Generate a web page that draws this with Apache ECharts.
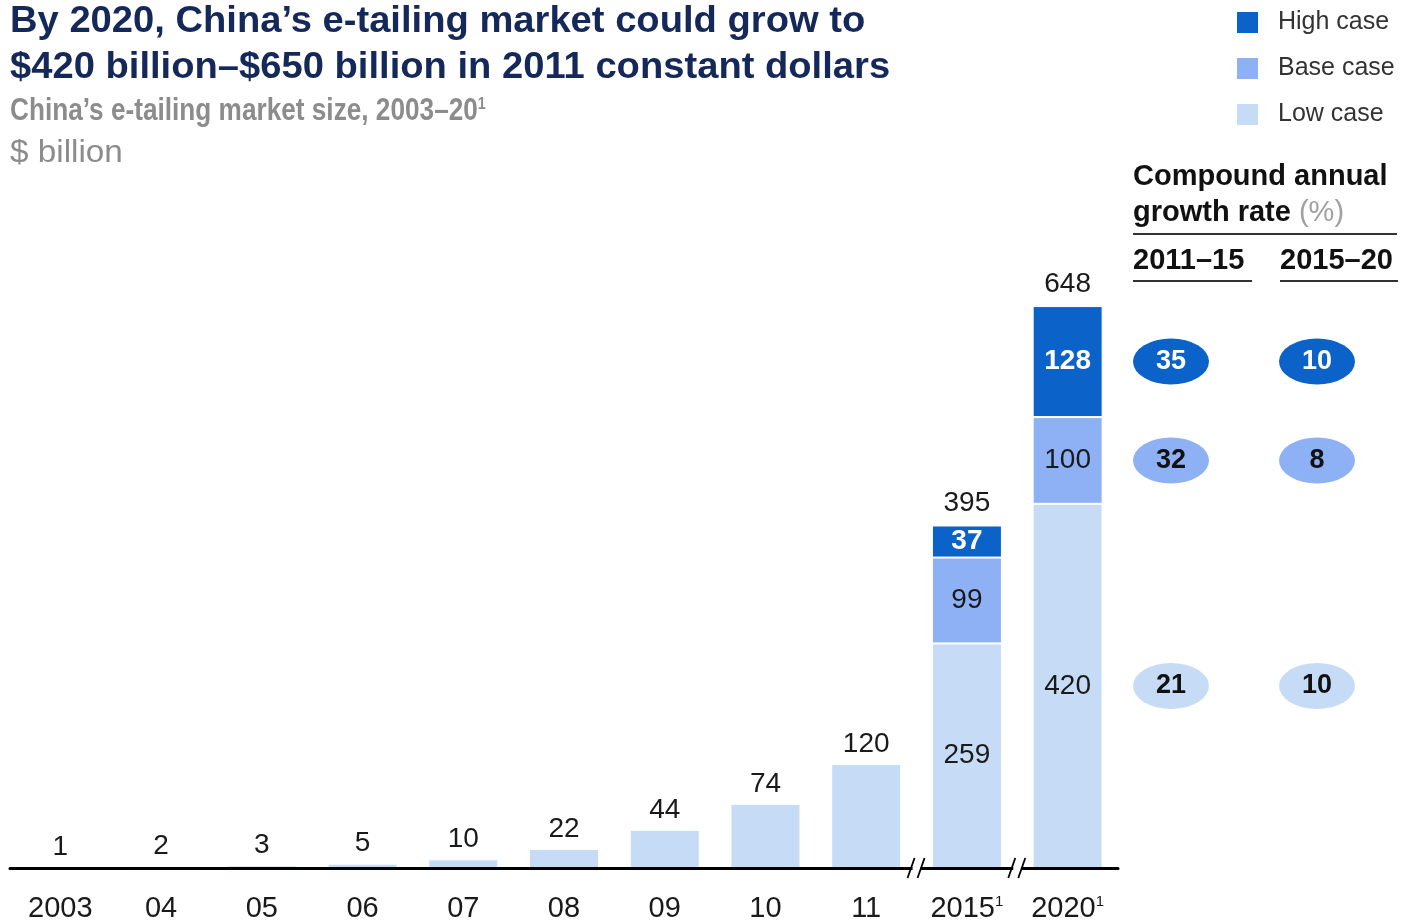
<!DOCTYPE html>
<html>
<head>
<meta charset="utf-8">
<script src="https://cdn.jsdelivr.net/npm/echarts@6/dist/echarts.min.js"></script>
<style>
  html, body { margin: 0; padding: 0; background: #ffffff; }
  #chart { width: 1401px; height: 923px; }
</style>
</head>
<body>
<div id="chart"></div>
<script>
// Market size, $ billion
const years = ['2003', '04', '05', '06', '07', '08', '09', '10', '11', '2015', '2020'];
const lowCase  = [1, 2, 3, 5, 10, 22, 44, 74, 120, 259, 420];
const baseCase = [null, null, null, null, null, null, null, null, null, 99, 100];
const highCase = [null, null, null, null, null, null, null, null, null, 37, 128];
// Years with a superscript footnote marker
const footnoted = ['2015', '2020'];

// Compound annual growth rate, %
const cagrPeriods = ['2011–15', '2015–20'];
const cagrHigh = [35, 10];
const cagrBase = [32, 8];
const cagrLow  = [21, 10];

const COLORS = { high: '#0b62c9', base: '#8db1f4', low: '#c6dcf6' };
const FONT = 'Liberation Sans, Arial, Helvetica, sans-serif';
const Y_MAX = 700;

const totals = years.map((_, i) => (lowCase[i] || 0) + (baseCase[i] || 0) + (highCase[i] || 0));
const projected = years.map(y => footnoted.indexOf(y) >= 0);

const labelBase = { fontFamily: FONT, fontSize: 28, color: '#1a1a1a' };

const lowData = lowCase.map((v, i) => ({
  value: v,
  label: projected[i]
    ? Object.assign({ show: true, position: 'inside' }, labelBase)
    : Object.assign({ show: true, position: 'top', distance: 6 }, labelBase)
}));
const baseData = baseCase.map(v => v == null ? '-' : v);
const highData = highCase.map(v => v == null ? '-' : v);

// Vertical centres of each segment of the last bar, used to line up the growth-rate rows
const last = years.length - 1;
const rowY = {
  low: lowCase[last] / 2,
  base: lowCase[last] + baseCase[last] / 2,
  high: lowCase[last] + baseCase[last] + highCase[last] / 2
};

function ellipseSeries(name, values, y, color, textColor) {
  return {
    name: name + ' CAGR',
    type: 'scatter',
    xAxisIndex: 1,
    yAxisIndex: 1,
    symbol: 'circle',
    symbolSize: [76, 46],
    itemStyle: { color: color, opacity: 1 },
    silent: true,
    data: values.map((v, i) => ({ value: [i, y], cagr: v })),
    label: {
      show: true,
      position: 'inside',
      formatter: p => String(p.data.cagr),
      fontFamily: FONT,
      fontSize: 27,
      fontWeight: 'bold',
      color: textColor
    },
    z: 5
  };
}

// Left-aligned, vertically centred text; sx stretches it horizontally
function label(text, x, y, font, fill, sx, rich) {
  return {
    type: 'text', x: x, y: y, scaleX: sx || 1,
    style: { text: text, x: 0, y: 0, font: font, fill: fill, align: 'left', verticalAlign: 'middle', rich: rich }
  };
}

const chart = echarts.init(document.getElementById('chart'), null, { renderer: 'canvas' });

const option = {
  backgroundColor: '#ffffff',
  animation: false,
  legend: {
    orient: 'vertical',
    left: 1235, top: 10, padding: 0,
    itemWidth: 23, itemHeight: 23, itemGap: 21,
    icon: 'rect',
    data: ['High case', 'Base case', 'Low case'],
    textStyle: { fontFamily: FONT, fontSize: 25, color: '#333333', padding: [0, 0, 0, 14] },
    selectedMode: false
  },
  grid: [
    { left: 10, width: 1108, top: 261, bottom: 55, containLabel: false },
    { left: 1098, width: 292, top: 261, bottom: 55, containLabel: false }
  ],
  xAxis: [
    {
      type: 'category',
      data: years,
      gridIndex: 0,
      z: 10,
      axisLine: { show: true, lineStyle: { color: '#000000', width: 3 } },
      axisTick: { show: false },
      axisLabel: {
        interval: 0,
        margin: 26,
        fontFamily: FONT, fontSize: 29, color: '#1a1a1a',
        formatter: v => footnoted.indexOf(v) >= 0 ? v + '{sup|1}' : v,
        rich: { sup: { fontFamily: FONT, fontSize: 15, color: '#1a1a1a', verticalAlign: 'top', padding: [0, 0, 13, 0] } }
      }
    },
    {
      type: 'category',
      data: cagrPeriods,
      gridIndex: 1,
      show: false
    }
  ],
  yAxis: [
    { type: 'value', gridIndex: 0, min: 0, max: Y_MAX, show: false, splitLine: { show: false } },
    { type: 'value', gridIndex: 1, min: 0, max: Y_MAX, show: false, splitLine: { show: false } }
  ],
  series: [
    {
      name: 'Low case', type: 'bar', stack: 'market', barWidth: 70,
      itemStyle: { color: COLORS.low, borderColor: '#ffffff', borderWidth: 1 },
      data: lowData, z: 2
    },
    {
      name: 'Base case', type: 'bar', stack: 'market', barWidth: 70,
      itemStyle: { color: COLORS.base, borderColor: '#ffffff', borderWidth: 1 },
      label: Object.assign({ show: true, position: 'inside' }, labelBase),
      data: baseData, z: 2
    },
    {
      name: 'High case', type: 'bar', stack: 'market', barWidth: 70,
      itemStyle: { color: COLORS.high, borderColor: '#ffffff', borderWidth: 1 },
      label: {
        show: true, position: 'inside',
        fontFamily: FONT, fontSize: 28, fontWeight: 'bold', color: '#ffffff'
      },
      data: highData, z: 2
    },
    {
      // Totals shown above the stacked projection bars
      name: 'Total', type: 'bar', stack: 'market', barWidth: 70,
      itemStyle: { color: 'transparent' },
      silent: true,
      label: {
        show: true, position: 'insideBottom', distance: 8,
        formatter: p => projected[p.dataIndex] ? String(totals[p.dataIndex]) : '',
        fontFamily: FONT, fontSize: 28, color: '#1a1a1a'
      },
      data: years.map((_, i) => projected[i] ? 0.0001 : '-'), z: 1
    },
    ellipseSeries('High case', cagrHigh, rowY.high, COLORS.high, '#ffffff'),
    ellipseSeries('Base case', cagrBase, rowY.base, COLORS.base, '#111111'),
    ellipseSeries('Low case', cagrLow, rowY.low, COLORS.low, '#111111')
  ]
};

chart.setOption(option);

// Titles, axis break marks and the growth-rate header
function drawExtras() {
  const baseY = chart.convertToPixel({ yAxisIndex: 0 }, 0);
  const els = [
    label('By 2020, China’s e-tailing market could grow to', 10, 22, 'bold 36px ' + FONT, '#14285a', 1.06),
    label('$420 billion–$650 billion in 2011 constant dollars', 10, 68, 'bold 36px ' + FONT, '#14285a', 1.06),
    label('{m|China’s e-tailing market size, 2003–20}{s|1}', 10, 111, 'bold 31px ' + FONT, '#8c8c8c', 0.845, {
      m: { font: 'bold 31px ' + FONT, fill: '#8c8c8c' },
      s: { font: 'bold 17px ' + FONT, fill: '#8c8c8c', verticalAlign: 'top', padding: [0, 0, 14, 0] }
    }),
    label('$ billion', 10, 153, '32px ' + FONT, '#8c8c8c', 1.04),

    label('Compound annual', 1133, 177, 'bold 29px ' + FONT, '#111111', 1),
    label('{b|growth rate} {g|(%)}', 1133, 213, 'bold 29px ' + FONT, '#111111', 1, {
      b: { font: 'bold 29px ' + FONT, fill: '#111111' },
      g: { font: '29px ' + FONT, fill: '#a0a0a0' }
    }),
    { type: 'line', shape: { x1: 1133, y1: 234, x2: 1397, y2: 234 }, style: { stroke: '#333333', lineWidth: 2 } },
    label(cagrPeriods[0], 1133, 261, 'bold 29px ' + FONT, '#111111', 1),
    label(cagrPeriods[1], 1280, 261, 'bold 29px ' + FONT, '#111111', 1),
    { type: 'line', shape: { x1: 1133, y1: 281, x2: 1252, y2: 281 }, style: { stroke: '#333333', lineWidth: 2 } },
    { type: 'line', shape: { x1: 1280, y1: 281, x2: 1398, y2: 281 }, style: { stroke: '#333333', lineWidth: 2 } }
  ];

  [8.5, 9.5].forEach(pos => {
    const a = chart.convertToPixel({ xAxisIndex: 0 }, Math.floor(pos));
    const b = chart.convertToPixel({ xAxisIndex: 0 }, Math.ceil(pos));
    const cx = (a + b) / 2;
    els.push(
      { type: 'rect', shape: { x: cx - 4, y: baseY - 4, width: 8, height: 8 }, style: { fill: '#ffffff' }, z: 100 },
      { type: 'line', shape: { x1: cx - 9, y1: baseY + 10, x2: cx - 2, y2: baseY - 10 }, style: { stroke: '#000000', lineWidth: 1.8 }, z: 101 },
      { type: 'line', shape: { x1: cx + 1, y1: baseY + 10, x2: cx + 8, y2: baseY - 10 }, style: { stroke: '#000000', lineWidth: 1.8 }, z: 101 }
    );
  });

  chart.setOption({ graphic: { elements: els } });
}
drawExtras();
</script>
</body>
</html>
